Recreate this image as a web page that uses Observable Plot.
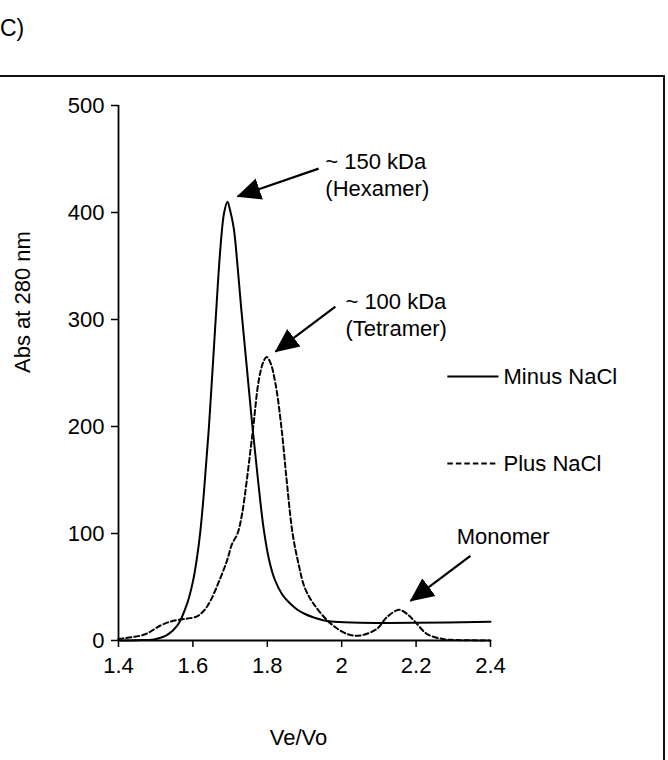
<!DOCTYPE html>
<html>
<head>
<meta charset="utf-8">
<script src="https://cdn.jsdelivr.net/npm/d3@7"></script>
<script src="https://cdn.jsdelivr.net/npm/@observablehq/plot@0.6"></script>
<style>
  html, body { margin: 0; padding: 0; background: #fff; }
  body { width: 668px; height: 760px; overflow: hidden; position: relative;
         font-family: "Liberation Sans", Arial, sans-serif; color: #000; }
  #tag { position: absolute; left: 0px; top: 14px; font-size: 23px; line-height: 28px; }
  #panel { position: absolute; left: -6px; top: 75px; width: 671px; height: 700px;
           border-top: 2px solid #111; border-right: 2px solid #111; box-sizing: border-box; }
  #chart { position: absolute; left: 0; top: 0; }
</style>
</head>
<body>
<div id="tag">C)</div>
<div id="panel"></div>
<div id="chart"></div>
<script>
// ---- Data ----
const minusX = [1.40, 1.45, 1.495, 1.53, 1.56, 1.585, 1.60, 1.61, 1.62, 1.63, 1.643, 1.661, 1.674, 1.684, 1.693, 1.70, 1.71, 1.72, 1.73, 1.745, 1.76, 1.775, 1.79, 1.805, 1.82, 1.84, 1.86, 1.88, 1.90, 1.925, 1.95, 1.98, 2.05, 2.2, 2.4];
const minusY = [0, 0.3, 1, 5, 15, 35, 55, 75, 102, 140, 199, 299, 367, 400, 410, 402, 385, 350, 310, 255, 200, 150, 105, 75, 57, 43, 35, 29, 25, 21.5, 19, 17.5, 16.5, 16.5, 17.5];

const plusX = [1.40, 1.47, 1.513, 1.55, 1.585, 1.611, 1.63, 1.647, 1.67, 1.692, 1.705, 1.72, 1.732, 1.745, 1.762, 1.777, 1.789, 1.798, 1.808, 1.822, 1.838, 1.852, 1.868, 1.885, 1.90, 1.925, 1.97, 2.015, 2.05, 2.095, 2.122, 2.154, 2.175, 2.194, 2.23, 2.275, 2.30, 2.4];
const plusY = [1.5, 5.6, 14, 18.7, 20.5, 22.5, 28, 37, 55, 75, 90, 100, 118, 150, 199, 243, 260, 265, 260, 240, 199, 150, 100, 70, 50, 34, 16, 6, 4.7, 11, 22, 28.7, 25, 18.7, 6, 1.2, 0.5, 0];

const seriesNames = ["Minus NaCl", "Plus NaCl"];
const xTicks = [1.4, 1.6, 1.8, 2.0, 2.2, 2.4];
const xTickLabels = ["1.4", "1.6", "1.8", "2", "2.2", "2.4"];
const yTicks = [0, 100, 200, 300, 400, 500];
const yTickLabels = ["0", "100", "200", "300", "400", "500"];
const xTitle = "Ve/Vo";
const yTitle = "Abs at 280 nm";

// annotation labels and arrows (data coordinates)
const noteText = ["~ 150 kDa\n(Hexamer)", "~ 100 kDa\n(Tetramer)", "Monomer"];
const noteX = [1.956, 2.010, 2.309];
const noteY = [436, 305, 98];
const arrowX1 = [1.938, 1.983, 2.346];
const arrowY1 = [441, 312, 79];
const arrowX2 = [1.72, 1.822, 2.185];
const arrowY2 = [415, 270, 37];

// legend (data coordinates)
const legendX1 = 2.284, legendX2 = 2.4215, legendTextX = 2.435;
const legendY = [246.7, 165.4];

// ---- Build tables ----
const minus = minusX.map((x, i) => ({x, y: minusY[i]}));
const plus = plusX.map((x, i) => ({x, y: plusY[i]}));
const notes = noteText.map((t, i) => ({t, x: noteX[i], y: noteY[i]}));
const arrows = arrowX1.map((x1, i) => ({x1, y1: arrowY1[i], x2: arrowX2[i], y2: arrowY2[i]}));
const legend = seriesNames.map((name, i) => ({name, y: legendY[i]}));

const INK = "#000";
const FONT = 22;

function headMarker(color, context) {
  const doc = (context && context.document) || document;
  const ns = "http://www.w3.org/2000/svg";
  const m = doc.createElementNS(ns, "marker");
  m.setAttribute("viewBox", "0 -12 24 24");
  m.setAttribute("refX", "23");
  m.setAttribute("refY", "0");
  m.setAttribute("markerWidth", "24");
  m.setAttribute("markerHeight", "24");
  m.setAttribute("markerUnits", "userSpaceOnUse");
  m.setAttribute("orient", "auto");
  const p = doc.createElementNS(ns, "path");
  p.setAttribute("d", "M0,-11L24,0L0,11Z");
  p.setAttribute("fill", color);
  p.setAttribute("stroke", "none");
  m.appendChild(p);
  return m;
}

const plot = Plot.plot({
  width: 668,
  height: 760,
  marginTop: 105,
  marginBottom: 120,
  marginLeft: 118,
  marginRight: 178,
  style: { fontFamily: '"Liberation Sans", Arial, sans-serif', fontSize: FONT + "px", color: INK, background: "transparent", overflow: "visible" },
  x: { domain: [1.4, 2.4] },
  y: { domain: [0, 500] },
  marks: [
    Plot.axisX({ ticks: xTicks, tickFormat: (d) => xTickLabels[xTicks.indexOf(d)], tickSize: 7, tickPadding: 10, label: null, stroke: INK, strokeWidth: 1.5, fontSize: FONT, fill: INK }),
    Plot.axisY({ ticks: yTicks, tickFormat: (d) => yTickLabels[yTicks.indexOf(d)], tickSize: 7, tickPadding: 7, label: null, stroke: INK, strokeWidth: 1.5, fontSize: FONT, fill: INK }),
    Plot.ruleX([1.4], { y1: 0, y2: 500, stroke: INK, strokeWidth: 1.8 }),
    Plot.ruleY([0], { x1: 1.4, x2: 2.4, stroke: INK, strokeWidth: 1.8 }),
    Plot.line(plus, { x: "x", y: "y", curve: "catmull-rom", stroke: INK, strokeWidth: 2, strokeDasharray: "5,3" }),
    Plot.line(minus, { x: "x", y: "y", curve: "catmull-rom", stroke: INK, strokeWidth: 2 }),
    Plot.link(arrows, { x1: "x1", y1: "y1", x2: "x2", y2: "y2", stroke: INK, strokeWidth: 2.2, markerEnd: headMarker }),
    Plot.text(notes, { x: "x", y: "y", text: "t", textAnchor: "start", lineAnchor: "middle", lineHeight: 1.22, fontSize: FONT, fill: INK }),
    Plot.link([legend[0]], { x1: () => legendX1, x2: () => legendX2, y1: "y", y2: "y", stroke: INK, strokeWidth: 2 }),
    Plot.link([legend[1]], { x1: () => legendX1, x2: () => legendX2, y1: "y", y2: "y", stroke: INK, strokeWidth: 2, strokeDasharray: "5.5,3" }),
    Plot.text(legend, { x: () => legendTextX, y: "y", text: "name", textAnchor: "start", lineAnchor: "middle", fontSize: FONT, fill: INK }),
    Plot.text([xTitle], { frameAnchor: "bottom", dx: -6, dy: 97, text: (d) => d, lineAnchor: "middle", fontSize: FONT, fill: INK }),
    Plot.text([yTitle], { frameAnchor: "left", dx: -96, text: (d) => d, rotate: -90, lineAnchor: "middle", fontSize: FONT, fill: INK })
  ]
});
document.getElementById("chart").appendChild(plot);
</script>
</body>
</html>
